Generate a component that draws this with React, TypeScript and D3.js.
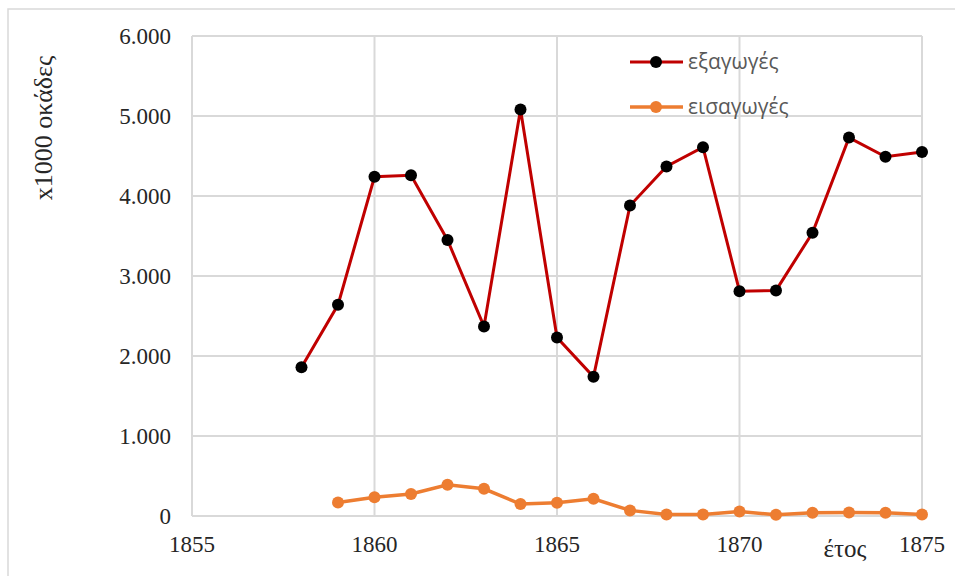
import React from 'react';
import * as d3 from 'd3';

// έτη και τιμές (x1000 οκάδες)
const exportYears = [1858, 1859, 1860, 1861, 1862, 1863, 1864, 1865, 1866, 1867, 1868, 1869, 1870, 1871, 1872, 1873, 1874, 1875];
const exportValues = [1860, 2640, 4240, 4260, 3450, 2370, 5080, 2230, 1740, 3880, 4370, 4610, 2810, 2820, 3540, 4730, 4490, 4550];

const importYears = [1859, 1860, 1861, 1862, 1863, 1864, 1865, 1866, 1867, 1868, 1869, 1870, 1871, 1872, 1873, 1874, 1875];
const importValues = [170, 235, 275, 390, 340, 150, 165, 215, 70, 20, 20, 55, 15, 40, 45, 40, 20];

const xTicks = [1855, 1860, 1865, 1870, 1875];
const yTicks = [0, 1000, 2000, 3000, 4000, 5000, 6000];

const seriesNames = ['εξαγωγές', 'εισαγωγές'];

const W = 955;
const H = 576;
const left = 192;
const right = 922;
const top = 36;
const bottom = 516;

const App = () => {
  const x = d3.scaleLinear().domain([1855, 1875]).range([left, right]);
  const y = d3.scaleLinear().domain([0, 6000]).range([bottom, top]);
  const fmt = (v: number) => (v === 0 ? '0' : d3.format(',')(v).replace(',', '.'));

  const line = d3.line<[number, number]>()
    .x(d => x(d[0]))
    .y(d => y(d[1]));

  const exp: [number, number][] = exportYears.map((yr, i) => [yr, exportValues[i]]);
  const imp: [number, number][] = importYears.map((yr, i) => [yr, importValues[i]]);

  const serif = { fontFamily: "'Liberation Serif'" };
  const sans = { fontFamily: "'Open Sans'" };
  const grid = '#d9d9d9';

  return (
    <svg width={W} height={H} style={{ position: 'absolute', left: 0, top: 0, display: 'block' }}>
      <rect x={0} y={0} width={W} height={H} fill="#fff" />
      {/* εξωτερικό πλαίσιο */}
      <rect x={8} y={9} width={W + 20} height={H + 20} fill="none" stroke="#d9d9d9" strokeWidth={1.5} />

      {/* πλέγμα */}
      {yTicks.map(t => (
        <line key={'gy' + t} x1={left} x2={right} y1={y(t)} y2={y(t)} stroke={grid} strokeWidth={2} />
      ))}
      {xTicks.map(t => (
        <line key={'gx' + t} x1={x(t)} x2={x(t)} y1={top} y2={bottom} stroke={grid} strokeWidth={2} />
      ))}

      {/* ετικέτες αξόνων */}
      {yTicks.map(t => (
        <text key={'ty' + t} x={171} y={y(t) + 8} textAnchor="end" style={serif} fontSize={23} fill="#262626">
          {fmt(t)}
        </text>
      ))}
      {xTicks.map(t => (
        <text key={'tx' + t} x={x(t)} y={552} textAnchor="middle" style={serif} fontSize={23} fill="#262626">
          {t}
        </text>
      ))}

      <text transform="translate(52,128) rotate(-90)" textAnchor="middle" style={serif} fontSize={26} fill="#262626">
        x1000 οκάδες
      </text>
      <text x={845} y={557} textAnchor="middle" style={serif} fontSize={25} fill="#262626">
        έτος
      </text>

      {/* εισαγωγές */}
      <path d={line(imp) || ''} fill="none" stroke="#ED7D31" strokeWidth={3.5} />
      {imp.map((d, i) => (
        <circle key={'ci' + i} cx={x(d[0])} cy={y(d[1])} r={6} fill="#ED7D31" />
      ))}

      {/* εξαγωγές */}
      <path d={line(exp) || ''} fill="none" stroke="#C00000" strokeWidth={3} />
      {exp.map((d, i) => (
        <circle key={'ce' + i} cx={x(d[0])} cy={y(d[1])} r={6} fill="#000" />
      ))}

      {/* υπόμνημα */}
      <g>
        <line x1={630} x2={683} y1={62} y2={62} stroke="#C00000" strokeWidth={3} />
        <circle cx={656} cy={62} r={6} fill="#000" />
        <text x={688} y={69} style={sans} fontSize={21} fill="#595959">{seriesNames[0]}</text>
        <line x1={630} x2={683} y1={107} y2={107} stroke="#ED7D31" strokeWidth={3.5} />
        <circle cx={656} cy={107} r={6} fill="#ED7D31" />
        <text x={688} y={114} style={sans} fontSize={21} fill="#595959">{seriesNames[1]}</text>
      </g>
    </svg>
  );
};

export default App;
